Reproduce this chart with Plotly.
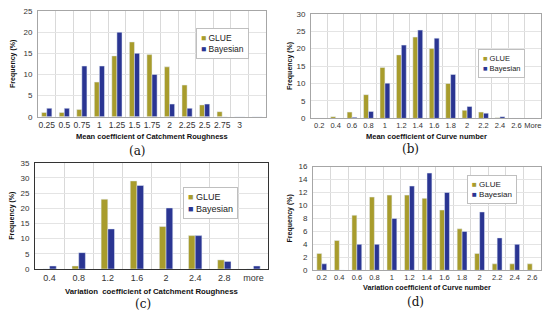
import plotly.graph_objects as go

# ---------------- data ----------------
cats_a = ["0.25", "0.5", "0.75", "1", "1.25", "1.5", "1.75", "2", "2.25", "2.5", "2.75", "3", " "]
glue_a = [1, 1, 1.7, 8.2, 14.4, 17.7, 14.7, 11.8, 7.5, 2.8, 1.2, 0, 0]
bayes_a = [2, 2, 12, 12, 20, 15, 10, 3, 2, 3, 0, 0, 0]

cats_b = ["0.2", "0.4", "0.6", "0.8", "1", "1.2", "1.4", "1.6", "1.8", "2", "2.2", "2.4", "2.6", "More"]
glue_b = [0, 0.5, 1.8, 6.8, 14.6, 18.2, 23.3, 20, 10, 2.3, 1.8, 0.2, 0, 0]
bayes_b = [0, 0, 0.3, 2, 10.1, 21, 25.3, 23, 12.6, 3.4, 1.5, 0.5, 0, 0]

cats_c = ["0.4", "0.8", "1.2", "1.6", "2", "2.4", "2.8", "more"]
glue_c = [0, 1, 23, 29, 14, 11, 3, 0]
bayes_c = [1, 5.4, 13.2, 27.5, 20.1, 11, 2.5, 1]

cats_d = ["0.2", "0.4", "0.6", "0.8", "1", "1.2", "1.4", "1.6", "1.8", "2", "2.2", "2.4", "2.6"]
glue_d = [2.6, 4.6, 8.5, 11.3, 11.6, 11.6, 11.1, 9.3, 6.4, 2.6, 1, 1, 1]
bayes_d = [1, 0, 4, 4, 8, 13, 15, 12, 6, 9, 5, 4, 0]

series_names = ["GLUE", "Bayesian"]
xtitles = ["Mean coefficient of Catchment Roughness", "Mean coefficient of Curve number",
           "Variation  coefficient of Catchment Roughness", "Variation coefficient of Curve number"]
panel_labels = ["(a)", "(b)", "(c)", "(d)"]
ymax = [25, 30, 35, 16]
ydtick = [5, 5, 5, 2]

GLUE_C = "#a89c2c"
BAYES_C = "#2a3592"
W, H = 550, 320

def px(x):
    return x / W

def py(y):
    return 1 - y / H

# panel geometry in pixels: (left, right, top(ymax), bottom(0))
geo = [(38, 266, 7.3, 116), (311, 541, 10, 117.7), (35, 268, 163.3, 272.7), (313, 541, 167.3, 274)]
barw = [0.29, 0.30, 0.23, 0.28]
legpos = [(196, 25), (478, 46), (183, 188), (467, 176)]
legfont = [8.5, 7.5, 9, 8]
xtickfont = [8.5, 7.5, 9, 7.5]
xtitle_font = [7.5, 7.5, 7.8, 7.2]
xtitle_pos = [(152, 136), (426, 136), (152, 296), (427, 292)]
plabel_pos = [(137, 151), (410, 149), (143, 309), (415, 307)]
ytitle_x = [13, 290, 12, 290]

data = [(cats_a, glue_a, bayes_a), (cats_b, glue_b, bayes_b),
        (cats_c, glue_c, bayes_c), (cats_d, glue_d, bayes_d)]

fig = go.Figure()
annotations = []
font_fam = "Liberation Sans, Arial, sans-serif"

for i, (cats, g, b) in enumerate(data):
    n = i + 1
    xa = "x" if n == 1 else f"x{n}"
    ya = "y" if n == 1 else f"y{n}"
    w = barw[i]
    fig.add_trace(go.Bar(x=cats, y=g, name=series_names[0], marker_color=GLUE_C, width=w, offset=-w,
                         xaxis=xa, yaxis=ya, showlegend=False))
    fig.add_trace(go.Bar(x=cats, y=b, name=series_names[1], marker_color=BAYES_C, width=w, offset=0,
                         xaxis=xa, yaxis=ya, showlegend=False))
    l, r, t, btm = geo[i]
    linecol = "#333333" if i == 2 else "#a6a6a6"
    xkey = "xaxis" if n == 1 else f"xaxis{n}"
    ykey = "yaxis" if n == 1 else f"yaxis{n}"
    fig.layout[xkey] = dict(domain=[px(l), px(r)], anchor=ya, type="category",
                            categoryorder="array", categoryarray=cats,
                            range=[-0.5, len(cats) - 0.5], tickson="boundaries",
                            showgrid=True, gridcolor="#d9d9d9", gridwidth=1,
                            showline=True, linecolor=linecol, mirror=True, tickangle=0,
                            ticks="", ticklen=0, ticklabelstandoff=0,
                            tickfont=dict(size=xtickfont[i], color="#333333", family=font_fam))
    fig.layout[ykey] = dict(domain=[py(btm), py(t)], anchor=xa, range=[0, ymax[i]],
                            dtick=ydtick[i], tick0=0, showgrid=True, gridcolor="#e4e4e4",
                            showline=True, linecolor=linecol, mirror=True, zeroline=False,
                            ticks="", ticklen=0, ticklabelstandoff=3,
                            tickfont=dict(size=8, color="#333333", family=font_fam))
    # legend box
    lx, ly = legpos[i]
    leg_text = (f"<span style='color:{GLUE_C}'>■</span> {series_names[0]}<br>"
                f"<span style='color:{BAYES_C}'>■</span> {series_names[1]}")
    annotations.append(dict(text=leg_text, x=px(lx), y=py(ly), xref="paper", yref="paper",
                            xanchor="left", yanchor="top", align="left", showarrow=False,
                            bgcolor="white", bordercolor="#bfbfbf", borderwidth=1, borderpad=4,
                            font=dict(size=legfont[i], color="#222222", family=font_fam)))
    tx, ty = xtitle_pos[i]
    annotations.append(dict(text=f"<b>{xtitles[i]}</b>", x=px(tx), y=py(ty), xref="paper", yref="paper",
                            xanchor="center", yanchor="middle",
                            showarrow=False, font=dict(size=xtitle_font[i], color="#111111", family=font_fam)))
    lbx, lby = plabel_pos[i]
    annotations.append(dict(text=panel_labels[i], x=px(lbx), y=py(lby), xref="paper", yref="paper",
                            xanchor="center", yanchor="middle",
                            showarrow=False, font=dict(size=12, color="#111111",
                                                       family="DejaVu Serif, serif")))
    annotations.append(dict(text="<b>Frequency (%)</b>", x=px(ytitle_x[i]), y=py((t + btm) / 2),
                            xref="paper", yref="paper", textangle=-90, showarrow=False,
                            xanchor="center", yanchor="middle",
                            font=dict(size=7, color="#111111", family=font_fam)))

fig.update_layout(width=W, height=H, margin=dict(l=0, r=0, t=0, b=0),
                  paper_bgcolor="white", plot_bgcolor="white", barmode="overlay",
                  annotations=annotations, showlegend=False)

fig.write_html("out.html", config={"displayModeBar": False},
               post_script="document.body.style.margin='0';document.body.style.overflow='hidden';")
